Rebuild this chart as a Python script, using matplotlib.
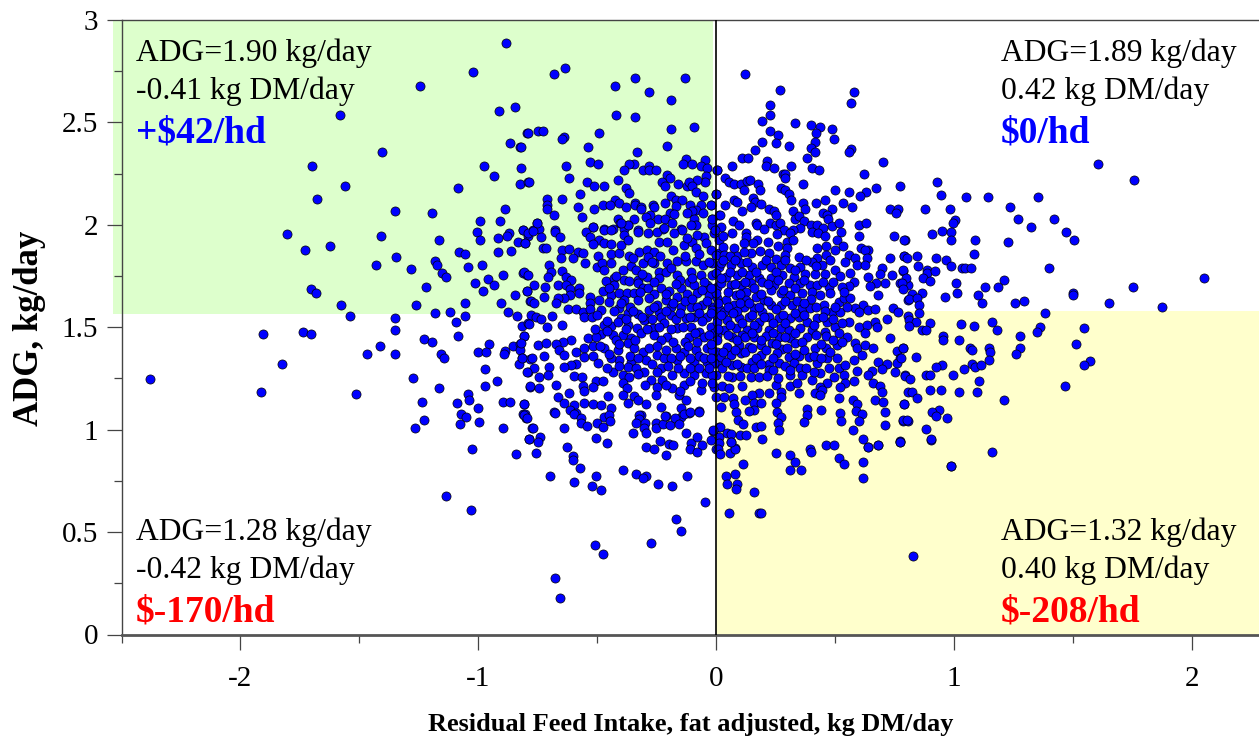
import numpy as np
import matplotlib
matplotlib.use("Agg")
import matplotlib.pyplot as plt

# (RFI, ADG) pairs, grouped by area of the plot
far_upper_left = [(-0.883,2.886),(-1.023,2.746),(-1.244,2.676),(-1.583,2.536),(-0.844,2.577),(-0.911,2.556),(-0.793,2.447),(-1.405,2.357),(-0.867,2.398),(-0.823,2.378),
(-1.699,2.287),(-0.976,2.287),(-0.820,2.277),(-0.932,2.238),(-1.562,2.188),(-1.085,2.178),(-0.826,2.198),(-0.790,2.207),(-1.679,2.128),(-1.348,2.068),(-1.195,2.058),(-0.888,2.077),
(-0.991,2.019),(-0.910,2.019),(-1.007,1.967),(-0.812,1.975),(-0.870,1.959),(-0.877,1.945),(-0.790,1.945),(-1.804,1.955),(-1.408,1.945),(-1.165,1.926),(-0.991,1.926),(-0.918,1.936),
(-0.834,1.915),(-0.804,1.913),(-1.727,1.875),(-1.625,1.895),(-1.345,1.845),(-1.079,1.866),(-1.055,1.856),(-0.917,1.866),(-0.861,1.874),(-1.428,1.806),(-1.181,1.825),(-1.173,1.806),
(-1.282,1.786),(-1.041,1.796),(-0.983,1.806),(-1.152,1.766),(-1.135,1.747),(-0.811,1.766),(-0.793,1.755),(-0.896,1.755),(-0.959,1.737),(-1.013,1.716),(-0.935,1.706),(-0.979,1.675),
(-1.219,1.696),(-1.704,1.687),(-1.684,1.666),(-0.797,1.675),(-0.847,1.656),(-0.784,1.626),(-1.576,1.607),(-1.262,1.607),(-1.055,1.617),(-0.904,1.617),(-1.181,1.568),(-1.118,1.576),
(-1.055,1.556),(-0.874,1.576),(-0.836,1.556),(-1.538,1.556),(-1.352,1.543),(-1.093,1.527)]

far_lower_left = [(-1.905,1.467),(-1.737,1.477),(-1.705,1.467),(-1.825,1.319),(-2.379,1.247),(-1.913,1.185),(-1.513,1.175),(-1.348,1.486),(-1.411,1.408),(-1.468,1.368),(-1.348,1.371),
(-1.229,1.444),(-1.193,1.429),(-1.086,1.457),(-0.814,1.508),(-0.790,1.522),(-0.807,1.457),(-0.956,1.416),(-0.855,1.408),(-0.823,1.416),(-0.826,1.389),(-1.002,1.377),(-0.969,1.377),
(-0.888,1.384),(-0.890,1.368),(-1.155,1.368),(-1.142,1.348),(-0.818,1.348),(-0.781,1.343),(-0.830,1.319),(-0.970,1.298),(-0.792,1.283),(-1.274,1.254),(-0.921,1.237),(-1.167,1.205),
(-0.970,1.215),(-0.784,1.210),(-1.041,1.174),(-1.039,1.145),(-1.236,1.135),(-1.090,1.128),(-0.895,1.135),(-0.868,1.135),(-0.809,1.125),(-1.002,1.105),(-1.072,1.075),(-1.050,1.060),
(-0.812,1.075),(-0.798,1.055),(-1.228,1.045),(-1.265,1.006),(-1.076,1.026),(-0.998,1.036),(-0.896,1.006),(-0.776,1.006),(-0.786,0.952),(-1.025,0.904),(-0.842,0.883),(-1.135,0.674),(-1.030,0.607)]

upper_middle_left = [(-0.635,2.765),(-0.682,2.736),(-0.342,2.716),(-0.130,2.716),(-0.427,2.677),(-0.281,2.648),(-0.188,2.607),(-0.421,2.537),(-0.339,2.526),(-0.188,2.469),(-0.094,2.478),
(-0.789,2.447),(-0.750,2.457),(-0.726,2.457),(-0.493,2.447),(-0.641,2.430),(-0.648,2.417),(-0.539,2.379),(-0.207,2.387),(-0.333,2.358),(-0.820,2.379),(-0.530,2.307),(-0.498,2.298),
(-0.633,2.288),(-0.344,2.298),(-0.364,2.298),(-0.386,2.268),(-0.308,2.268),(-0.281,2.288),(-0.281,2.268),(-0.252,2.268),(-0.126,2.320),(-0.140,2.298),(-0.101,2.298),(-0.046,2.317),
(-0.062,2.288),(-0.039,2.278),(0.004,2.268),(-0.617,2.228),(-0.413,2.218),(-0.206,2.241),(-0.192,2.228),(-0.042,2.236),(-0.046,2.211),(-0.081,2.218),(-0.786,2.208),(-0.544,2.208),
(-0.515,2.189),(-0.473,2.189),(-0.227,2.208),(-0.216,2.189),(-0.161,2.198),(-0.121,2.189),(-0.114,2.208),(-0.102,2.189),(-0.379,2.180),(-0.368,2.156),(-0.084,2.159),(-0.572,2.150),
(-0.002,2.150),(-0.709,2.128),(-0.647,2.128),(-0.191,2.140),(-0.053,2.140),(-0.170,2.120),(-0.142,2.119),(-0.423,2.119),(-0.409,2.109),(-0.216,2.109),(-0.709,2.099),(-0.581,2.089),
(-0.475,2.099),(-0.445,2.099),(-0.378,2.089),(-0.342,2.109),(-0.340,2.099),(-0.314,2.089),(-0.267,2.099),(-0.260,2.089),(-0.170,2.094),(-0.111,2.099),(-0.062,2.099),(-0.023,2.099),
(-0.712,2.078),(-0.515,2.078),(-0.314,2.078),(-0.086,2.073),(-0.055,2.060),(-0.100,2.068),(-0.121,2.060),(-0.682,2.050),(-0.564,2.039),(-0.277,2.047),(-0.195,2.060),(-0.177,2.052),
(-0.413,2.029),(-0.347,2.029),(-0.295,2.036),(-0.246,2.029),(-0.214,2.029),(-0.094,2.029),(-0.018,2.029),(0.011,2.049),(-0.753,2.010),(-0.405,2.010),(-0.370,2.000),(-0.277,2.010),
(-0.184,2.008),(-0.084,2.000),(-0.016,2.000),(-0.519,1.990),(-0.470,1.980),(-0.435,1.980),(-0.386,1.980),(-0.328,1.974),(-0.221,1.980),(-0.146,1.980),(-0.770,1.974),(-0.743,1.980),(-0.676,1.974)]

dense_left = [(-0.813,1.975),(-0.792,1.959),(-0.753,2.008),(-0.771,1.972),(-0.736,1.939),(-0.803,1.913),(-0.676,1.967),(-0.656,1.939),(-0.729,1.886),(-0.715,1.886),(-0.649,1.877),(-0.617,1.881),
(-0.582,1.866),(-0.558,1.861),(-0.603,1.837),(-0.652,1.837),(-0.551,1.812),(-0.498,1.848),(-0.440,1.856),(-0.407,1.861),(-0.365,1.848),(-0.323,1.866),(-0.291,1.877),(-0.260,1.866),
(-0.237,1.848),(-0.179,1.877),(-0.135,1.902),(-0.100,1.918),(-0.051,1.943),(-0.547,1.967),(-0.519,1.988),(-0.529,1.943),(-0.491,1.926),(-0.519,1.907),(-0.470,1.975),(-0.442,1.975),
(-0.470,1.913),(-0.440,1.907),(-0.386,1.951),(-0.370,2.000),(-0.400,2.008),(-0.400,1.902),(-0.372,1.926),(-0.328,1.967),(-0.286,1.962),(-0.247,1.967),(-0.219,1.983),(-0.239,1.918),
(-0.205,1.918),(-0.142,1.975),(-0.107,2.000),(-0.079,1.951),(-0.044,1.910),(-0.009,1.959),(0.012,1.926),(-0.176,1.959),(-0.121,1.934),(-0.086,1.886),(-0.023,1.877),(0.012,1.861),
(-0.701,1.804),(-0.649,1.777),(-0.694,1.772),(-0.708,1.747),(-0.806,1.772),(-0.792,1.755),(-0.501,1.796),(-0.480,1.812),(-0.442,1.816),(-0.393,1.780),(-0.356,1.799),(-0.309,1.812),
(-0.337,1.780),(-0.288,1.845),(-0.260,1.812),(-0.239,1.772),(-0.212,1.772),(-0.163,1.755),(-0.205,1.812),(-0.163,1.821),(-0.125,1.821),(-0.086,1.821),(-0.053,1.804),(-0.107,1.772),
(-0.065,1.755),(-0.016,1.812),(0.012,1.796),(-0.016,1.755),(-0.291,1.747),(-0.330,1.731),(-0.764,1.707),(-0.719,1.695),(-0.795,1.679),(-0.725,1.646),(-0.778,1.628),(-0.764,1.617),
(-0.666,1.707),(-0.631,1.744),(-0.610,1.731),(-0.631,1.707),(-0.614,1.687),(-0.575,1.690),(-0.575,1.666),(-0.614,1.658),(-0.638,1.642),(-0.663,1.642),(-0.673,1.620),(-0.530,1.646),
(-0.529,1.617),(-0.463,1.728),(-0.428,1.739),(-0.428,1.707),(-0.477,1.679),(-0.442,1.658),(-0.407,1.669),(-0.375,1.669),(-0.386,1.731),(-0.365,1.728),(-0.328,1.715),(-0.344,1.669),
(-0.309,1.690),(-0.288,1.690),(-0.260,1.663),(-0.232,1.690),(-0.198,1.679),(-0.149,1.690),(-0.114,1.723),(-0.093,1.707),(-0.037,1.707),(0.005,1.698),(-0.121,1.663),(-0.079,1.666),
(-0.030,1.658),(-0.163,1.646),(-0.212,1.633),(-0.281,1.642),(-0.330,1.633),(-0.386,1.633),(-0.449,1.625),(-0.491,1.633),(0.005,1.641),(-0.624,1.588),(-0.589,1.588),(-0.558,1.576),
(-0.529,1.588),(-0.484,1.585),(-0.407,1.593),(-0.372,1.568),(-0.330,1.563),(-0.281,1.585),(-0.239,1.576),(-0.191,1.601),(-0.149,1.598),(-0.107,1.598),(-0.058,1.609),(-0.016,1.601),
(0.012,1.588),(-0.691,1.557),(-0.778,1.560),(-0.757,1.552),(-0.736,1.541),(-0.554,1.549),(-0.523,1.552),(-0.400,1.544),(-0.295,1.539),(-0.232,1.552),(-0.191,1.560),(-0.128,1.544),
(-0.093,1.552),(-0.037,1.552),(0.005,1.552),(-0.785,1.516),(-0.711,1.500),(-0.649,1.511),(-0.806,1.458),(-0.442,1.506),(-0.473,1.511),(-0.414,1.528),(-0.372,1.511),(-0.333,1.495),
(-0.303,1.536),(-0.267,1.495),(-0.219,1.519),(-0.163,1.495),(-0.107,1.503),(-0.072,1.479),(-0.023,1.503),(-0.484,1.467),(-0.435,1.462),(-0.393,1.462),(-0.358,1.446),(-0.316,1.471),
(-0.260,1.462),(-0.205,1.454),(-0.114,1.454),(-0.051,1.454),(0.005,1.462),(-0.540,1.446),(-0.505,1.454),(-0.610,1.438),(-0.645,1.430),(-0.750,1.414),(-0.715,1.425),(-0.673,1.418),
(-0.820,1.422),(-0.659,1.389),(-0.638,1.365),(-0.589,1.381),(-0.557,1.397),(-0.519,1.409),(-0.554,1.357),(-0.519,1.360),(-0.470,1.397),(-0.412,1.389),(-0.372,1.422),(-0.344,1.397),
(-0.309,1.381),(-0.247,1.365),(-0.170,1.397),(-0.135,1.381),(-0.086,1.389),(-0.037,1.397),(0.005,1.381),(-0.093,1.332),(-0.163,1.340),(-0.219,1.349),(-0.295,1.340),(-0.358,1.332),
(-0.407,1.340),(-0.442,1.349),(-0.498,1.324),(-0.589,1.321),(-0.610,1.316),(-0.638,1.308),(-0.701,1.308),(-0.722,1.360),(-0.775,1.349),(-0.817,1.349),(-0.039,1.332),(0.005,1.324),
(-0.767,1.300),(-0.795,1.283),(-0.743,1.259),(-0.705,1.267),(-0.781,1.213),(-0.743,1.205),(-0.673,1.218),(-0.596,1.262),(-0.564,1.259),(-0.505,1.239),(-0.477,1.239),(-0.435,1.283),
(-0.372,1.308),(-0.393,1.267),(-0.365,1.259),(-0.302,1.283),(-0.274,1.243),(-0.232,1.300),(-0.226,1.243),(-0.184,1.267),(-0.135,1.275),(-0.093,1.267),(-0.044,1.275),(-0.002,1.267),
(-0.337,1.300),(-0.561,1.213),(-0.519,1.210),(-0.554,1.191),(-0.393,1.226),(-0.375,1.202),(-0.135,1.218),(-0.065,1.194),(-0.184,1.202),(-0.247,1.210),(-0.009,1.210),(-0.617,1.181),
(-0.663,1.158),(-0.454,1.166),(-0.393,1.169),(-0.344,1.165),(-0.638,1.129),(-0.596,1.121),(-0.554,1.129),(-0.519,1.126),(-0.484,1.121),(-0.809,1.126),(-0.295,1.124),(-0.253,1.169),
(-0.232,1.113),(-0.372,1.132),(-0.330,1.145),(-0.156,1.169),(-0.128,1.145),(-0.149,1.104),(-0.072,1.093),(-0.114,1.083),(-0.442,1.104),(-0.680,1.085),(-0.613,1.096),(-0.589,1.080),
(-0.802,1.077),(-0.470,1.064),(-0.316,1.072),(-0.211,1.069),(-0.149,1.064)]

lower_middle_left = [(-0.806,1.072),(-0.795,1.055),(-0.677,1.080),(-0.596,1.076),(-0.568,1.055),(-0.568,1.034),(-0.544,1.018),(-0.501,1.034),(-0.477,1.015),(-0.449,1.072),(-0.445,1.044),
(-0.323,1.072),(-0.323,1.050),(-0.337,1.034),(-0.298,1.034),(-0.305,1.006),(-0.293,0.982),(-0.351,0.982),(-0.251,1.034),(-0.252,1.006),(-0.221,1.028),(-0.195,1.023),(-0.213,1.067),
(-0.174,1.055),(-0.156,1.028),(-0.135,1.076),(-0.111,1.085),(-0.072,1.088),(-0.128,0.982),(-0.770,1.006),(-0.638,1.006),(-0.742,0.966),(-0.785,0.953),(-0.747,0.938),(-0.504,0.958),
(-0.458,0.933),(-0.628,0.914),(-0.756,0.884),(-0.603,0.873),(-0.602,0.852),(-0.572,0.814),(-0.698,0.774),(-0.504,0.774),(-0.599,0.744),(-0.522,0.723),(-0.484,0.704),(-0.393,0.801),
(-0.336,0.784),(-0.295,0.775),(-0.309,0.762),(-0.246,0.735),(-0.184,0.723),(-0.121,0.774),(-0.048,0.645),(-0.168,0.565),(-0.147,0.504),(-0.274,0.445),(-0.509,0.435),(-0.475,0.394),
(-0.679,0.276),(-0.655,0.176),(-0.295,0.914),(-0.260,0.904),(-0.234,0.943),(-0.198,0.928),(-0.179,0.923),(-0.210,0.875),(-0.107,0.933),(-0.081,0.963),(-0.060,0.923),(-0.108,0.904),
(-0.081,0.893),(-0.013,0.995),(-0.020,0.949),(0.011,1.015),(-0.002,0.904),(0.012,0.966)]

upper_middle_right = [(0.121,2.737),(0.267,2.657),(0.578,2.647),(0.566,2.597),(0.225,2.587),(0.225,2.536),(0.194,2.507),(0.332,2.496),(0.398,2.486),(0.439,2.476),(0.488,2.466),(0.227,2.457),
(0.419,2.447),(0.261,2.437),(0.497,2.418),(0.192,2.406),(0.250,2.398),(0.415,2.406),(0.306,2.387),(0.398,2.377),(0.416,2.357),(0.566,2.370),(0.560,2.357),(0.163,2.367),(0.383,2.328),
(0.108,2.328),(0.134,2.328),(0.700,2.307),(0.216,2.312),(0.212,2.289),(0.243,2.278),(0.317,2.287),(0.067,2.287),(0.404,2.278),(0.432,2.268),(0.005,2.268),(0.623,2.247),(0.281,2.247),
(0.292,2.248),(0.290,2.229),(0.037,2.229),(0.054,2.209),(0.075,2.200),(0.103,2.200),(0.131,2.216),(0.142,2.219),(0.176,2.200),(0.184,2.169),(0.117,2.169),(0.364,2.198),(0.773,2.188),
(0.672,2.178),(0.274,2.178),(0.292,2.170),(0.306,2.149),(0.502,2.169),(0.559,2.159),(0.630,2.159),(0.606,2.139),(-0.002,2.149),(0.317,2.120),(0.155,2.129),(0.075,2.120),(0.089,2.110),
(0.039,2.099),(-0.020,2.099),(0.162,2.110),(0.190,2.100),(0.148,2.089),(0.366,2.108),(0.373,2.077),(0.422,2.108),(0.458,2.120),(0.532,2.108),(0.573,2.089),(0.488,2.079),(0.731,2.079),
(0.767,2.079),(0.756,2.058),(0.110,2.069),(0.222,2.079),(0.243,2.069),(0.250,2.048),(0.322,2.069),(0.016,2.048),(0.450,2.058),(0.467,2.048),(0.334,2.029),(0.348,2.043),(0.469,2.029),
(-0.016,2.027),(0.072,2.017),(0.096,1.999),(0.169,2.007),(0.173,1.998),(0.225,2.007),(0.253,1.998),(0.269,2.007),(0.371,2.017),(0.401,1.998),(0.425,1.998),(0.448,1.986),(0.489,1.996),
(0.516,2.007),(0.602,1.998),(0.630,2.007),(0.355,1.986),(0.019,1.988),(-0.005,1.975),(0.201,1.978),(0.285,1.975),(0.322,1.975),(0.402,1.964),(0.429,1.959),(0.525,1.965),(0.065,1.959),
(0.030,1.947),(0.128,1.959),(0.124,1.942),(0.257,1.955),(0.313,1.959),(0.460,1.946),(0.599,1.946),(0.750,1.946),(0.793,1.924),(0.509,1.926),(0.173,1.924),(0.155,1.910),(0.218,1.915),
(0.299,1.916),(0.324,1.926),(0.117,1.913),(0.532,1.895),(0.461,1.895),(0.260,1.895),(0.297,1.885),(0.425,1.885),(0.611,1.889),(0.639,1.879),(0.625,1.876),(0.502,1.876),(0.029,1.894),
(0.075,1.885),(0.183,1.874),(0.145,1.864),(0.222,1.864),(0.557,1.855),(0.462,1.855),(0.288,1.855),(0.089,1.850),(-0.002,1.853),(0.033,1.853),(0.058,1.850),(0.117,1.869),(0.585,1.837),
(0.732,1.837),(0.791,1.846),(0.634,1.837),(0.425,1.837),(0.348,1.845),(0.253,1.833)]

dense_right = [(0.019,1.812),(0.061,1.804),(0.103,1.812),(0.152,1.796),(0.194,1.804),(0.229,1.796),(0.271,1.804),(0.313,1.788),(0.355,1.796),(0.404,1.820),(0.446,1.804),(0.502,1.779),(0.544,1.820),
(0.592,1.804),(0.627,1.804),(0.565,1.763),(0.697,1.787),(0.690,1.760),(0.739,1.755),(0.788,1.776),(0.641,1.747),(0.774,1.717),(0.809,1.706),(0.711,1.717),(0.674,1.717),(0.648,1.701),
(0.578,1.722),(0.558,1.701),(0.460,1.760),(0.418,1.760),(0.376,1.760),(0.327,1.744),(0.278,1.755),(0.229,1.739),(0.180,1.739),(0.138,1.755),(0.089,1.755),(0.040,1.747),(-0.002,1.763),
(0.019,1.714),(0.061,1.706),(0.103,1.706),(0.145,1.714),(0.194,1.722),(0.243,1.706),(0.306,1.714),(0.355,1.714),(0.397,1.706),(0.425,1.706),(0.474,1.698),(0.530,1.698),(-0.002,1.665),
(0.040,1.633),(0.082,1.657),(0.124,1.673),(0.124,1.633),(0.166,1.649),(0.229,1.682),(0.201,1.633),(0.271,1.665),(0.313,1.657),(0.362,1.665),(0.404,1.673),(0.439,1.657),(0.481,1.665),
(0.516,1.625),(0.537,1.641),(0.565,1.641),(0.618,1.608),(0.683,1.657),(0.809,1.633),(0.271,1.608),(0.320,1.608),(0.229,1.608),(0.362,1.592),(0.397,1.592),(0.453,1.608),(0.488,1.576),
(0.523,1.576),(0.585,1.592),(0.599,1.576),(0.641,1.584),(0.667,1.587),(0.746,1.592),(0.767,1.576),(0.117,1.600),(0.075,1.608),(0.033,1.576),(-0.016,1.584),(0.159,1.592),(0.194,1.576),
(0.005,1.527),(0.047,1.535),(0.096,1.543),(0.138,1.551),(0.180,1.527),(0.222,1.551),(0.264,1.543),(0.313,1.543),(0.348,1.551),(0.383,1.527),(0.425,1.543),(0.467,1.527),(0.502,1.503),
(0.558,1.527),(0.599,1.503),(0.634,1.511),(0.667,1.527),(0.718,1.538),(0.676,1.503),(0.627,1.470),(0.033,1.486),(0.082,1.494),(0.131,1.486),(0.173,1.494),(0.222,1.486),(0.271,1.494),
(0.306,1.486),(0.355,1.494),(0.404,1.486),(0.460,1.478),(0.551,1.454),(0.516,1.470),(-0.009,1.470),(0.068,1.454),(0.110,1.462),(0.159,1.451),(0.208,1.457),(0.264,1.451),(0.313,1.446),
(0.383,1.451),(0.464,1.457),(0.732,1.449),(0.005,1.437),(0.047,1.405),(0.096,1.413),(0.138,1.405),(0.187,1.413),(0.236,1.421),(0.278,1.392),(0.334,1.421),(0.418,1.397),(0.464,1.397),
(0.508,1.413),(0.585,1.421),(0.592,1.397),(0.627,1.413),(0.662,1.397),(0.760,1.385),(0.785,1.400),(0.613,1.364),(-0.016,1.389),(0.103,1.372),(0.061,1.364),(0.019,1.356),(0.187,1.364),
(0.257,1.372),(0.306,1.356),(0.348,1.359),(0.390,1.356),(0.467,1.348),(0.508,1.348),(0.578,1.340),(0.774,1.348),(0.683,1.332),(0.718,1.320),(0.760,1.327),(0.152,1.332),(0.222,1.320),
(0.264,1.327),(0.327,1.324),(0.425,1.324),(-0.009,1.324),(0.068,1.315),(0.026,1.299),(0.103,1.304),(0.222,1.291),(0.355,1.299),(0.439,1.278),(0.474,1.299),(0.516,1.299),(0.544,1.315),
(0.592,1.288),(0.697,1.294),(0.655,1.288),(0.753,1.280),(0.641,1.267),(0.795,1.265),(0.068,1.259),(0.145,1.259),(0.180,1.259),(0.215,1.262),(0.313,1.267),(0.362,1.267),(0.404,1.242),
(0.495,1.259),(0.537,1.267),(0.578,1.239),(0.658,1.226),(0.250,1.218),(0.313,1.213),(0.467,1.226),(0.544,1.226),(0.522,1.210),(0.439,1.206),(0.690,1.213),(0.110,1.215),(0.026,1.213),
(0.054,1.202),(-0.016,1.267),(-0.016,1.226),(0.180,1.177),(0.152,1.169),(0.222,1.177),(0.271,1.185),(0.274,1.161),(0.348,1.177),(0.418,1.177),(0.446,1.193),(0.439,1.169),(0.697,1.185),
(0.809,1.185),(0.516,1.156),(-0.002,1.161),(0.033,1.158),(0.072,1.153),(0.121,1.145),(0.075,1.125),(0.159,1.132),(0.187,1.132),(0.250,1.132),(0.576,1.145),(0.669,1.145),(0.704,1.136),
(0.790,1.125),(0.592,1.125),(0.019,1.112),(0.159,1.096),(0.138,1.092),(0.082,1.084),(0.257,1.087),(0.383,1.099),(0.441,1.096),(0.522,1.079),(0.588,1.092),(0.711,1.084),(0.614,1.076),
(0.275,1.063),(0.383,1.071),(0.092,1.047),(0.113,1.027),(0.369,1.036),(0.527,1.044),(0.602,1.044),(0.788,1.044),(0.809,1.044),(0.261,1.034),(0.711,1.022),(0.016,1.014),(0.170,1.014),
(0.190,1.019),(0.264,0.996),(0.574,0.996),(-0.012,0.996),(0.047,0.982),(0.100,0.972),(0.124,0.972),(0.064,0.977),(0.194,0.954),(0.618,0.952),(0.774,0.944),(0.061,0.941),(0.012,0.933),
(0.462,0.925),(0.497,0.925),(0.637,0.917),(0.681,0.925),(0.078,0.909),(0.397,0.904)]

lower_middle_right = [(0.009,0.904),(0.015,0.882),(0.057,0.885),(0.078,0.904),(0.061,0.942),(0.250,0.885),(0.313,0.877),(0.401,0.893),(0.330,0.844),(0.311,0.804),(0.358,0.804),(0.115,0.834),
(0.081,0.784),(0.041,0.774),(0.047,0.734),(0.090,0.734),(0.083,0.712),(0.160,0.694),(0.054,0.595),(0.180,0.595),(0.190,0.595),(0.516,0.864),(0.538,0.834),(0.616,0.844),(0.616,0.764),
(0.639,0.914),(0.682,0.924),(0.990,0.825),(0.830,0.385),(0.773,0.942),(0.903,0.950)]

far_right = [(1.606,2.298),(1.757,2.218),(0.929,2.208),(0.946,2.148),(1.050,2.138),(1.145,2.138),(1.355,2.138),(1.238,2.089),(0.878,2.078),(0.984,2.078),(1.269,2.029),(1.420,2.029),(1.005,2.024),
(0.998,2.008),(1.324,1.987),(0.952,1.969),(0.989,1.967),(0.907,1.956),(1.472,1.966),(1.506,1.927),(0.792,1.927),(0.989,1.927),(1.089,1.927),(1.229,1.917),(1.086,1.857),(0.791,1.847),
(0.802,1.837),(0.844,1.847),(0.924,1.837),(0.967,1.827),(0.850,1.797),(0.987,1.797),(1.033,1.788),(1.047,1.788),(1.072,1.788),(1.398,1.788),(0.785,1.779),(0.886,1.780),(0.886,1.764),
(0.921,1.774),(0.798,1.738),(0.871,1.738),(0.901,1.727),(1.209,1.730),(2.051,1.738),(1.009,1.717),(1.132,1.697),(1.187,1.697),(1.752,1.697),(0.781,1.715),(0.788,1.686),(0.864,1.668),
(0.824,1.661),(1.012,1.668),(1.100,1.658),(1.500,1.666),(1.500,1.658),(0.964,1.647),(0.810,1.637),(0.844,1.642),(0.855,1.608),(1.117,1.617),(1.258,1.617),(1.294,1.627),(1.651,1.617),
(1.875,1.598),(0.852,1.569),(1.385,1.569),(0.808,1.557),(0.810,1.536),(0.840,1.528),(0.813,1.508),(0.900,1.521),(1.029,1.518),(1.083,1.508),(1.159,1.528),(1.181,1.487),(0.865,1.487),
(0.883,1.487),(1.361,1.499),(1.349,1.478),(1.549,1.497),(0.954,1.458),(0.954,1.438),(1.023,1.438),(1.280,1.458),(1.515,1.417),(0.787,1.398),(1.068,1.398),(1.075,1.388),(1.149,1.398),
(1.153,1.378),(1.280,1.398),(1.261,1.367),(0.841,1.357),(0.778,1.349),(1.149,1.338),(1.574,1.333),(1.549,1.318),(0.949,1.318),(0.926,1.305),(1.075,1.323),(1.090,1.308),(1.115,1.315),
(1.044,1.298),(0.795,1.264),(0.816,1.248),(0.883,1.269),(0.900,1.269),(0.998,1.269),(1.104,1.238),(1.466,1.215),(0.822,1.186),(0.901,1.196),(0.945,1.193),(1.023,1.186),(1.099,1.186),
(0.847,1.157),(1.209,1.145),(0.791,1.126),(0.936,1.097),(0.907,1.085),(0.926,1.066),(0.970,1.056),(0.788,1.046),(0.803,1.046),(0.884,1.005),(0.904,0.953),(0.774,0.942),(1.159,0.893),(0.989,0.825)]

# centre of the cloud, too packed to separate one by one, so these are best guesses
packed_centre = [(-0.47,1.78),(-0.42,1.75),(-0.35,1.84),(-0.31,1.76),(-0.27,1.82),(-0.24,1.74),(-0.19,1.79),(-0.15,1.73),(-0.13,1.85),(-0.10,1.74),(-0.07,1.86),(-0.05,1.72),(-0.03,1.82),
(-0.45,1.69),(-0.40,1.62),(-0.36,1.60),(-0.32,1.67),(-0.26,1.72),(-0.25,1.61),(-0.21,1.66),(-0.18,1.62),(-0.17,1.71),(-0.13,1.63),(-0.10,1.64),(-0.08,1.60),(-0.06,1.68),(-0.04,1.63),(-0.02,1.69),
(-0.50,1.56),(-0.46,1.53),(-0.43,1.58),(-0.38,1.54),(-0.35,1.58),(-0.31,1.55),(-0.27,1.54),(-0.26,1.60),(-0.21,1.58),(-0.17,1.54),(-0.15,1.57),(-0.11,1.55),(-0.07,1.57),(-0.06,1.53),(-0.02,1.57),
(-0.51,1.49),(-0.46,1.48),(-0.42,1.44),(-0.38,1.49),(-0.34,1.44),(-0.29,1.49),(-0.24,1.50),(-0.23,1.44),(-0.19,1.49),(-0.18,1.43),(-0.14,1.50),(-0.13,1.43),(-0.09,1.47),(-0.08,1.43),(-0.03,1.46),(-0.02,1.42),
(-0.49,1.41),(-0.45,1.37),(-0.41,1.42),(-0.36,1.36),(-0.33,1.35),(-0.28,1.40),(-0.25,1.41),(-0.21,1.39),(-0.19,1.35),(-0.15,1.36),(-0.12,1.41),(-0.11,1.35),(-0.07,1.36),(-0.05,1.35),(-0.02,1.35),
(-0.46,1.30),(-0.41,1.31),(-0.33,1.27),(-0.27,1.32),(-0.25,1.28),(-0.20,1.31),(-0.16,1.30),(-0.11,1.30),(-0.07,1.30),(-0.03,1.30),(-0.30,1.22),(-0.21,1.22),(-0.11,1.24),(-0.06,1.23),(-0.15,1.19),
(0.03,1.83),(0.06,1.77),(0.08,1.83),(0.11,1.77),(0.13,1.82),(0.17,1.77),(0.21,1.83),(0.25,1.77),(0.29,1.83),(0.33,1.78),(0.38,1.83),(0.42,1.80),(0.48,1.83),(0.52,1.75),
(0.02,1.74),(0.05,1.67),(0.08,1.71),(0.10,1.66),(0.12,1.72),(0.16,1.69),(0.19,1.66),(0.22,1.71),(0.26,1.73),(0.28,1.68),(0.33,1.69),(0.37,1.73),(0.40,1.64),(0.45,1.72),(0.49,1.72),(0.54,1.67),
(0.01,1.62),(0.05,1.60),(0.09,1.58),(0.10,1.62),(0.14,1.62),(0.18,1.60),(0.22,1.63),(0.25,1.59),(0.29,1.63),(0.34,1.63),(0.37,1.62),(0.42,1.60),(0.46,1.58),(0.50,1.60),(0.55,1.60),
(0.02,1.56),(0.06,1.51),(0.07,1.57),(0.11,1.52),(0.15,1.56),(0.16,1.51),(0.20,1.55),(0.24,1.52),(0.28,1.56),(0.29,1.52),(0.33,1.57),(0.37,1.56),(0.41,1.51),(0.45,1.55),(0.49,1.54),(0.53,1.52),
(0.01,1.49),(0.05,1.46),(0.09,1.44),(0.12,1.45),(0.15,1.47),(0.19,1.44),(0.24,1.47),(0.25,1.42),(0.29,1.45),(0.33,1.47),(0.36,1.43),(0.42,1.46),(0.44,1.42),(0.49,1.44),(0.53,1.43),
(0.03,1.38),(0.08,1.39),(0.12,1.38),(0.15,1.40),(0.17,1.35),(0.21,1.39),(0.24,1.35),(0.30,1.40),(0.33,1.37),(0.37,1.39),(0.41,1.36),(0.44,1.35),(0.48,1.38),
(0.04,1.33),(0.09,1.32),(0.13,1.30),(0.16,1.30),(0.19,1.32),(0.24,1.29),(0.29,1.31),(0.31,1.29),(0.38,1.30),(0.41,1.28),(0.05,1.26),(0.10,1.26),(0.26,1.25),(0.34,1.23)]

x_ticks = [-2, -1, 0, 1, 2]
y_ticks = [0, 0.5, 1, 1.5, 2, 2.5, 3]
y_labels = ['0', '0.5', '1', '1.5', '2', '2.5', '3']

quadrants = [
    (136, 'ADG=1.90 kg/day', '-0.41 kg DM/day', '+$42/hd', 'blue', 'top'),
    (1001, 'ADG=1.89 kg/day', '0.42 kg DM/day', '$0/hd', 'blue', 'top'),
    (136, 'ADG=1.28 kg/day', '-0.42 kg DM/day', '$-170/hd', 'red', 'bottom'),
    (1001, 'ADG=1.32 kg/day', '0.40 kg DM/day', '$-208/hd', 'red', 'bottom'),
]

plt.rcParams['font.family'] = 'Liberation Serif'
plt.rcParams['axes.unicode_minus'] = False

points = np.array(far_upper_left + far_lower_left + upper_middle_left + dense_left + lower_middle_left
                  + upper_middle_right + dense_right + lower_middle_right + far_right + packed_centre)

W, H = 1259, 738
fig = plt.figure(figsize=(W / 100, H / 100), dpi=100)
ax = fig.add_axes([121.5 / W, 1 - 634.5 / H, (W - 121.5) / W, 614.5 / H])
ax.set_xlim(-2.5, 2.283)
ax.set_ylim(0, 3)

# shaded corners, the green one runs a bit past the y axis
ax.axvspan(-2.535, -0.012, ymin=1.567 / 3, ymax=1, color='#DDFFCC', lw=0, clip_on=False, zorder=0)
ax.axvspan(0, 2.283, ymin=0, ymax=1.58 / 3, color='#FFFFCC', lw=0, zorder=0)

ax.scatter(points[:, 0], points[:, 1], s=43, c='#0000FF', edgecolors='black', linewidths=0.5, zorder=3)
ax.axvline(0, color='black', lw=1.2, zorder=4)

ax.set_xticks(x_ticks)
ax.set_xticks([-2.5, -1.5, -0.5, 0.5, 1.5], minor=True)
ax.set_yticks(y_ticks)
ax.set_yticklabels(y_labels)
ax.set_yticks([0.25, 0.75, 1.25, 1.75, 2.25, 2.75], minor=True)
ax.tick_params(axis='both', which='major', length=11, width=0.9, color='#444444', labelsize=21, pad=6)
ax.tick_params(axis='both', which='minor', length=5.5, width=0.9, color='#444444')
ax.tick_params(axis='x', which='major', pad=12)

for side in ['left', 'top']:
    ax.spines[side].set_linewidth(1.0)
    ax.spines[side].set_color('#444444')
ax.spines['right'].set_visible(False)
ax.spines['bottom'].set_linewidth(2.0)
ax.spines['bottom'].set_color('#555555')

fig.text(30 / W, 1 - 328 / H, 'ADG, kg/day', rotation=90, fontsize=25, fontweight='bold', ha='center', va='center')
fig.text(691 / W, 1 - 725 / H, 'Residual Feed Intake, fat adjusted, kg DM/day', fontsize=18.9, fontweight='bold', ha='center', va='center')

for x_px, adg_txt, dm_txt, money_txt, colour, where in quadrants:
    y0 = 53 if where == 'top' else 532
    fig.text(x_px / W, 1 - y0 / H, adg_txt, fontsize=22.8, va='center', ha='left')
    fig.text(x_px / W, 1 - (y0 + 38) / H, dm_txt, fontsize=22.8, va='center', ha='left')
    fig.text(x_px / W, 1 - (y0 + 80) / H, money_txt, fontsize=27, fontweight='bold', color=colour, va='center', ha='left')

fig.savefig('out.png', dpi=100)
